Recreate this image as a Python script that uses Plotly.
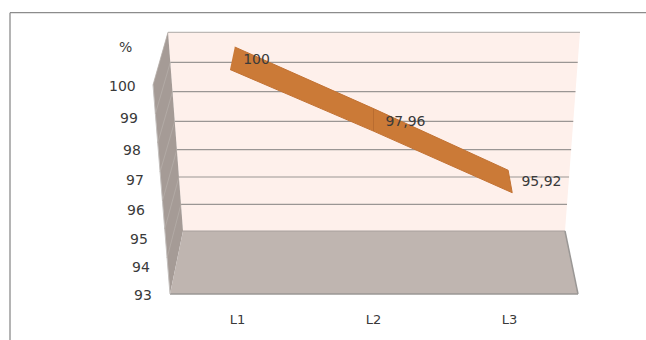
import plotly.graph_objects as go

categories = ["L1", "L2", "L3"]
values = [100, 97.96, 95.92]
value_labels = ["100", "97,96", "95,92"]
axis_labels = ["100", "99", "98", "97", "96", "95", "94", "93"]
axis_title = "%"

W, H = 646, 340
PLOT_BOTTOM = 305
TEXT = "#3a3a3a"

# pixel helpers for the pseudo-3D box (decoration only)
def px(x): return x / W
def py(y): return 1 - y / PLOT_BOTTOM

def poly(points, fill, line=None, width=1):
    path = "M " + " L ".join(f"{px(x):.5f},{py(y):.5f}" for x, y in points) + " Z"
    return dict(type="path", xref="paper", yref="paper", path=path, fillcolor=fill,
                line=dict(color=line or "rgba(0,0,0,0)", width=width), layer="below")

def seg(x0, y0, x1, y1, color, width=1.2):
    return dict(type="line", xref="paper", yref="paper", x0=px(x0), y0=py(y0), x1=px(x1), y1=py(y1),
                line=dict(color=color, width=width), layer="below")

shapes = [
    poly([(168, 32), (580, 32), (565, 231), (183, 231)], "#FEF0EB"),
    poly([(153, 85), (168, 32), (183, 231), (170, 294)], "#A59B96"),
    poly([(183, 231), (565, 231), (578, 294), (170, 294)], "#BFB5B0"),
    seg(183, 231, 565, 231, "#A8A09C", 1),
    seg(170, 294, 578, 294, "#9A9795", 1.5),
    seg(565, 231, 578, 294, "#9A9795", 1.5),
    seg(153, 85, 170, 294, "#C4C0BE", 1),
]
grid_y = [32.3, 62.3, 91.7, 121.3, 149.7, 177, 204.3]
front_y = [85, 114, 143, 172, 201, 229, 258]
for gy, fy in zip(grid_y, front_y):
    lx = 168 + (gy - 32) * 15 / 199
    rx = 580 - (gy - 32) * 15 / 199
    shapes.append(seg(lx, gy, rx, gy, "#9A9694" if gy > 40 else "#BDB8B5", 1.2))
    fx = 153 + (fy - 85) * 17 / 209
    shapes.append(seg(lx, gy, fx, fy, "#B5ADA8", 0.8))
# chart frame
shapes.append(dict(type="line", xref="paper", yref="paper", x0=px(10), x1=1, y0=py(12.7), y1=py(12.7),
                   line=dict(color="#8C8C8C", width=1.3), layer="below"))
shapes.append(dict(type="line", xref="paper", yref="paper", x0=px(10), x1=px(10), y0=py(12.7), y1=py(340),
                   line=dict(color="#8C8C8C", width=1.3), layer="below"))

idx = list(range(len(categories)))
DEPTH = 0.745  # ribbon depth in value units
front_dx = [-0.055, 0, 0.02]
back_dx = [-0.02, 0, -0.01]
rib_x = [i + d for i, d in zip(idx, front_dx)] + [i + d for i, d in zip(idx, back_dx)][::-1]
rib_y = values + [v + DEPTH for v in values][::-1]

fig = go.Figure()
fig.add_trace(go.Scatter(x=rib_x, y=rib_y, mode="lines", fill="toself", fillcolor="#CB7A37",
                         line=dict(color="#C27233", width=1), hoverinfo="skip", showlegend=False))
fig.add_trace(go.Scatter(x=[1, 1], y=[values[1], values[1] + DEPTH], mode="lines",
                         line=dict(color="#B96C30", width=1), hoverinfo="skip", showlegend=False))
fig.add_trace(go.Scatter(x=[i + d for i, d in zip(idx, [0.14, 0.235, 0.235])],
                         y=[v + d for v, d in zip(values, [0.29, 0.30, 0.33])],
                         mode="text", text=value_labels, textposition="middle center",
                         textfont=dict(family="DejaVu Sans", size=14, color=TEXT),
                         hoverinfo="skip", showlegend=False))

annotations = []
label_pos = [(138, 86), (140, 118), (143, 150), (145.5, 180), (147, 210), (149.5, 239), (152, 267), (154, 295)]
for t, (x, y) in zip(axis_labels, label_pos):
    annotations.append(dict(text=t, xref="paper", yref="paper", x=px(x), y=py(y), xanchor="right", yanchor="middle",
                            showarrow=False, font=dict(family="DejaVu Sans", size=14, color=TEXT)))
annotations.append(dict(text=axis_title, xref="paper", yref="paper", x=px(125.5), y=py(47), xanchor="center",
                        yanchor="middle", showarrow=False, font=dict(family="DejaVu Sans", size=14, color=TEXT)))

fig.update_layout(
    width=W, height=H, margin=dict(l=0, r=0, t=0, b=H - PLOT_BOTTOM, pad=0),
    paper_bgcolor="white", plot_bgcolor="rgba(0,0,0,0)", showlegend=False,
    shapes=shapes, annotations=annotations,
    xaxis=dict(range=[-237.5 / 136, (W - 237.5) / 136], tickmode="array", tickvals=idx, ticktext=categories,
               showgrid=False, zeroline=False, showline=False, ticks="", ticklen=0, ticklabelstandoff=5,
               tickfont=dict(family="DejaVu Sans", size=13, color=TEXT)),
    yaxis=dict(range=[100 - (PLOT_BOTTOM - 69.5) / 30.2, 100 + 69.5 / 30.2], visible=False),
)
fig.write_html("out.html", config=dict(displayModeBar=False),
               post_script="document.body.style.margin='0';document.body.style.overflow='hidden';")
